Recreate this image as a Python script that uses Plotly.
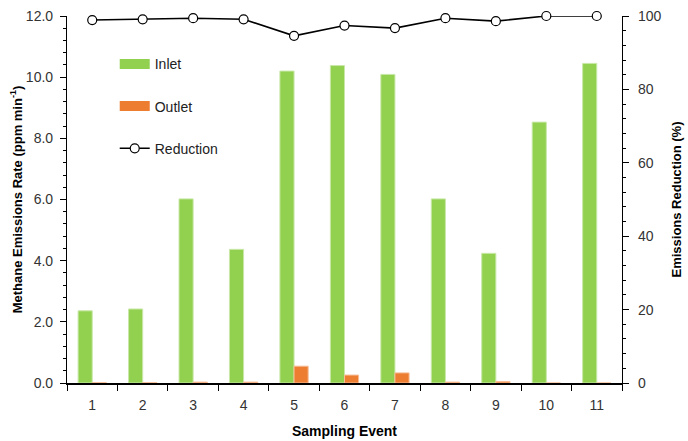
import plotly.graph_objects as go

events = ["1", "2", "3", "4", "5", "6", "7", "8", "9", "10", "11"]
inlet = [2.36, 2.42, 6.02, 4.37, 10.2, 10.38, 10.09, 6.02, 4.24, 8.53, 10.45]
outlet = [0.01, 0.01, 0.03, 0.03, 0.55, 0.26, 0.33, 0.03, 0.05, 0.0, 0.0]
reduction = [98.9, 99.1, 99.4, 99.1, 94.6, 97.4, 96.7, 99.4, 98.6, 100.0, 100.0]

GREEN = "#92D050"
ORANGE = "#ED7D31"
FONT = "Liberation Sans, Arial, sans-serif"

fig = go.Figure()
fig.add_trace(go.Bar(x=events, y=inlet, name="Inlet", showlegend=False,
                     marker=dict(color=GREEN, line=dict(color="#C9E8A8", width=1))))
fig.add_trace(go.Bar(x=events, y=outlet, name="Outlet", showlegend=False,
                     marker=dict(color=ORANGE, line=dict(color="#F6BE98", width=1))))
fig.add_trace(go.Scatter(x=events, y=reduction, name="Reduction", legendgroup="c",
                         yaxis="y2", mode="lines+markers", showlegend=False,
                         line=dict(color="black", width=1.6),
                         marker=dict(symbol="circle", size=9, color="white",
                                     line=dict(color="black", width=1.2)),
                         cliponaxis=False))
# legend entries (wide rectangles like the reference)
fig.add_trace(go.Scatter(x=[None], y=[None], name="Inlet", legendgroup="a", mode="lines",
                         line=dict(color=GREEN, width=10)))
fig.add_trace(go.Scatter(x=[None], y=[None], name="Outlet", legendgroup="b", mode="lines",
                         line=dict(color=ORANGE, width=10)))
fig.add_trace(go.Scatter(x=[None], y=[None], name="Reduction", legendgroup="c",
                         mode="lines+markers", line=dict(color="black", width=1.6),
                         marker=dict(symbol="circle", size=9, color="white",
                                     line=dict(color="black", width=1.2))))

fig.update_layout(
    width=688, height=441,
    margin=dict(l=67, r=66, t=16, b=58),
    paper_bgcolor="white", plot_bgcolor="white",
    font=dict(family=FONT, size=14, color="#333333"),
    barmode="group", bargap=0.44, bargroupgap=0.0,
    showlegend=True,
    legend=dict(x=0.086, y=0.912, xanchor="left", yanchor="top",
                bgcolor="rgba(0,0,0,0)", tracegroupgap=21,
                font=dict(family=FONT, size=14, color="#222222")),
    xaxis=dict(type="category", tickson="boundaries", ticks="outside", ticklen=6,
               tickcolor="black", showline=True, linecolor="black", linewidth=1.5,
               showgrid=False, range=[-0.5, 10.5], ticklabelstandoff=8, automargin=False,
               title=dict(text="<b>Sampling Event</b>", font=dict(family=FONT, size=14, color="black"),
                          standoff=15)),
    yaxis=dict(range=[0, 12], dtick=2, tickformat=".1f", ticks="outside", ticklen=6,
               tickcolor="black", showline=True, linecolor="black", linewidth=1.2,
               showgrid=False, zeroline=False, ticklabelstandoff=4, automargin=False,
               minor=dict(dtick=0.4, ticks="outside", ticklen=3, tickcolor="black"),
               title=dict(text="<b>Methane Emissions Rate (ppm min<sup>-1</sup>)</b>",
                          font=dict(family=FONT, size=13, color="black"), standoff=0)),
    yaxis2=dict(range=[0, 100], dtick=20, overlaying="y", side="right",
                ticks="outside", ticklen=6, tickcolor="black", showline=True,
                linecolor="black", linewidth=1.2, showgrid=False, zeroline=False,
                ticklabelstandoff=6, automargin=False,
                minor=dict(dtick=4, ticks="outside", ticklen=3, tickcolor="black"),
                title=dict(text="<b>Emissions Reduction (%)</b>",
                           font=dict(family=FONT, size=13, color="black"), standoff=11)),
)

fig.write_html("out.html")
